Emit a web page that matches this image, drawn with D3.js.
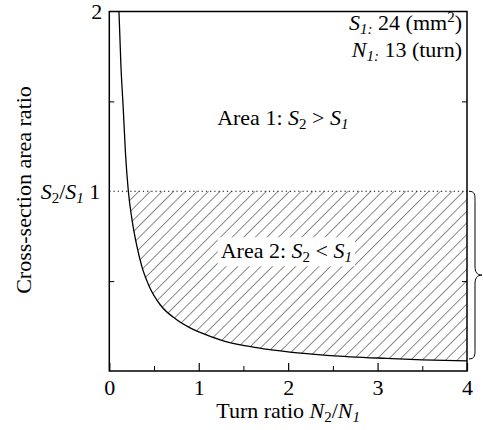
<!DOCTYPE html>
<html>
<head>
<meta charset="utf-8">
<script src="https://cdn.jsdelivr.net/npm/d3@7"></script>
<style>
  body { margin: 0; background: #fff; }
</style>
</head>
<body>
<div class="chart"></div>
<script>
// turn ratio N2/N1 and cross-section area ratio S2/S1
var turnRatio = [0.108, 0.13, 0.157, 0.18, 0.213, 0.25, 0.306, 0.362, 0.455, 0.567, 0.754, 0.903, 1.015, 1.275, 1.649, 2.02, 2.47, 3.1, 3.5, 4.0];
var areaRatio = [2.0, 1.70, 1.45, 1.22, 1.0, 0.855, 0.70, 0.585, 0.462, 0.37, 0.285, 0.24, 0.215, 0.168, 0.13, 0.105, 0.086, 0.07, 0.062, 0.056];
var xTicks = [0, 1, 2, 3, 4];
var xMinor = [0.5, 1.5, 2.5, 3.5];
var yMinor = [0.5, 1.5];

var W = 483, H = 430;
var margin = { top: 11.5, right: 16, bottom: 59, left: 109.3 },
    width = W - margin.left - margin.right,
    height = H - margin.top - margin.bottom;

var FS = "22px", SUB = "15px";

var x = d3.scaleLinear().domain([0, 4]).range([0, width]);
var y = d3.scaleLinear().domain([0, 2]).range([height, 0]);

var data = turnRatio.map(function (t, i) { return { n: t, s: areaRatio[i] }; });

var svg = d3.select(".chart").append("svg")
    .attr("width", W)
    .attr("height", H);

var defs = svg.append("defs");
defs.append("pattern")
    .attr("id", "hatch")
    .attr("patternUnits", "userSpaceOnUse")
    .attr("width", 8.2)
    .attr("height", 8.2)
    .attr("patternTransform", "rotate(45)")
    .append("line")
    .attr("x1", 0).attr("y1", 0)
    .attr("x2", 0).attr("y2", 8.2)
    .style("stroke", "#000")
    .style("stroke-width", 0.9);

defs.append("clipPath").attr("id", "plotclip")
    .append("rect").attr("width", width).attr("height", height);

var g = svg.append("g")
    .attr("transform", "translate(" + margin.left + "," + margin.top + ")");

// hatched area between the curve and S2/S1 = 1
var below = data.filter(function (d) { return d.s <= 1; });
var area = d3.area()
    .curve(d3.curveMonotoneX)
    .x(function (d) { return x(d.n); })
    .y0(y(1))
    .y1(function (d) { return y(d.s); });

g.append("path")
    .datum(below)
    .attr("d", area)
    .style("fill", "url(#hatch)")
    .style("stroke", "none");

// dotted line at 1
g.append("line")
    .attr("x1", 0).attr("x2", width)
    .attr("y1", y(1)).attr("y2", y(1))
    .style("stroke", "#000")
    .style("stroke-width", 1)
    .style("stroke-dasharray", "1.2,3");

var line = d3.line()
    .curve(d3.curveMonotoneX)
    .x(function (d) { return x(d.n); })
    .y(function (d) { return y(d.s); });

g.append("path")
    .datum(data)
    .attr("clip-path", "url(#plotclip)")
    .attr("d", line)
    .style("fill", "none")
    .style("stroke", "#000")
    .style("stroke-width", 1.3);

// axes: ticks pointing inward
g.append("g")
    .attr("transform", "translate(0," + height + ")")
    .call(d3.axisBottom(x).tickValues(xTicks).tickSizeInner(-8).tickSizeOuter(0).tickPadding(8).tickFormat(d3.format("d")))
    .call(function (a) {
        a.select(".domain").remove();
        a.selectAll("text").style("font-size", FS);
        a.selectAll("line").style("stroke-width", 1.2);
    });

g.append("g")
    .attr("transform", "translate(0," + height + ")")
    .call(d3.axisBottom(x).tickValues(xMinor).tickSizeInner(-5).tickSizeOuter(0).tickFormat(""))
    .call(function (a) { a.select(".domain").remove(); });

g.append("g")
    .call(d3.axisLeft(y).tickValues(yMinor).tickSizeInner(-5).tickSizeOuter(0).tickFormat(""))
    .call(function (a) { a.select(".domain").remove(); });

g.append("g")
    .attr("transform", "translate(" + width + ",0)")
    .call(d3.axisRight(y).tickValues(yMinor).tickSizeInner(-5).tickSizeOuter(0).tickFormat(""))
    .call(function (a) { a.select(".domain").remove(); });

// frame
g.append("rect")
    .attr("width", width)
    .attr("height", height)
    .style("fill", "none")
    .style("stroke", "#000")
    .style("stroke-width", 1.5);

// y tick labels
g.append("text")
    .attr("x", -7).attr("y", y(2))
    .attr("dy", "0.35em")
    .style("text-anchor", "end")
    .style("font-size", FS)
    .text("2");

var ylab = g.append("text")
    .attr("x", -9).attr("y", y(1))
    .attr("dy", "0.35em")
    .style("text-anchor", "end")
    .style("font-size", FS);
ylab.append("tspan").style("font-style", "italic").text("S");
ylab.append("tspan").attr("dy", 4).style("font-size", SUB).text("2");
ylab.append("tspan").attr("dy", -4).text("/");
ylab.append("tspan").style("font-style", "italic").text("S");
ylab.append("tspan").attr("dy", 4).style("font-size", SUB).style("font-style", "italic").text("1");
ylab.append("tspan").attr("dy", -4).text(" 1");

// axis titles
var xt = svg.append("text")
    .attr("x", margin.left + x(2))
    .attr("y", 418)
    .style("text-anchor", "middle")
    .style("font-size", FS);
xt.append("tspan").text("Turn ratio ");
xt.append("tspan").style("font-style", "italic").text("N");
xt.append("tspan").attr("dy", 4).style("font-size", SUB).text("2");
xt.append("tspan").attr("dy", -4).text("/");
xt.append("tspan").style("font-style", "italic").text("N");
xt.append("tspan").attr("dy", 4).style("font-size", SUB).style("font-style", "italic").text("1");

svg.append("text")
    .attr("transform", "translate(31,190) rotate(-90)")
    .style("text-anchor", "middle")
    .style("font-size", FS)
    .text("Cross-section area ratio");

// area labels
function areaLabel(parent, px, py, name, op, bg) {
    var t = parent.append("text")
        .attr("x", px).attr("y", py)
        .attr("dy", "0.35em")
        .style("text-anchor", "middle")
        .style("font-family", "'Liberation Serif'")
        .style("font-size", FS);
    t.append("tspan").text(name + ": ");
    t.append("tspan").style("font-style", "italic").text("S");
    t.append("tspan").attr("dy", 4).style("font-size", SUB).text("2");
    t.append("tspan").attr("dy", -4).text(" " + op + " ");
    t.append("tspan").style("font-style", "italic").text("S");
    t.append("tspan").attr("dy", 4).style("font-size", SUB).style("font-style", "italic").text("1");
    if (bg) {
        var b = t.node().getBBox();
        parent.insert("rect", function () { return t.node(); })
            .attr("x", b.x - 3).attr("y", b.y - 1)
            .attr("width", b.width + 6).attr("height", b.height + 2)
            .style("fill", "#fff");
    }
}
areaLabel(g, x(1.94), y(1.41), "Area 1", ">", false);
areaLabel(g, x(1.98), y(0.67), "Area 2", "<", true);

// S1, N1 note
var note1 = g.append("text")
    .attr("x", width - 5).attr("y", 18)
    .style("text-anchor", "end")
    .style("font-size", FS);
note1.append("tspan").style("font-style", "italic").text("S");
note1.append("tspan").attr("dy", 4).style("font-size", SUB).style("font-style", "italic").text("1:");
note1.append("tspan").attr("dy", -4).text(" 24 (mm");
note1.append("tspan").attr("dy", -8).style("font-size", SUB).text("2");
note1.append("tspan").attr("dy", 8).text(")");

var note2 = g.append("text")
    .attr("x", width - 5).attr("y", 45)
    .style("text-anchor", "end")
    .style("font-size", FS);
note2.append("tspan").style("font-style", "italic").text("N");
note2.append("tspan").attr("dy", 4).style("font-size", SUB).style("font-style", "italic").text("1:");
note2.append("tspan").attr("dy", -4).text(" 13 (turn)");

// brace spanning from 1 down to the curve end
var bx = width + 2,
    bt = y(1),
    bb = y(areaRatio[areaRatio.length - 1]) - 2,
    bm = (bt + bb) / 2;
var bracePath = "M" + bx + "," + bt +
    " C" + (bx + 6) + "," + bt + " " + (bx + 6) + "," + (bt + 4) + " " + (bx + 6) + "," + (bt + 9) +
    " L" + (bx + 6) + "," + (bm - 9) +
    " C" + (bx + 6) + "," + (bm - 3) + " " + (bx + 8) + "," + bm + " " + (bx + 13) + "," + bm +
    " C" + (bx + 8) + "," + bm + " " + (bx + 6) + "," + (bm + 3) + " " + (bx + 6) + "," + (bm + 9) +
    " L" + (bx + 6) + "," + (bb - 9) +
    " C" + (bx + 6) + "," + (bb - 4) + " " + (bx + 6) + "," + bb + " " + bx + "," + bb;
g.append("path")
    .attr("d", bracePath)
    .style("fill", "none")
    .style("stroke", "#000")
    .style("stroke-width", 1);

// serif face on every text (set after the axes, which add their own font attrs)
svg.selectAll("g").attr("font-family", null);
svg.selectAll("text").style("font-family", "'Liberation Serif'");
</script>
</body>
</html>
